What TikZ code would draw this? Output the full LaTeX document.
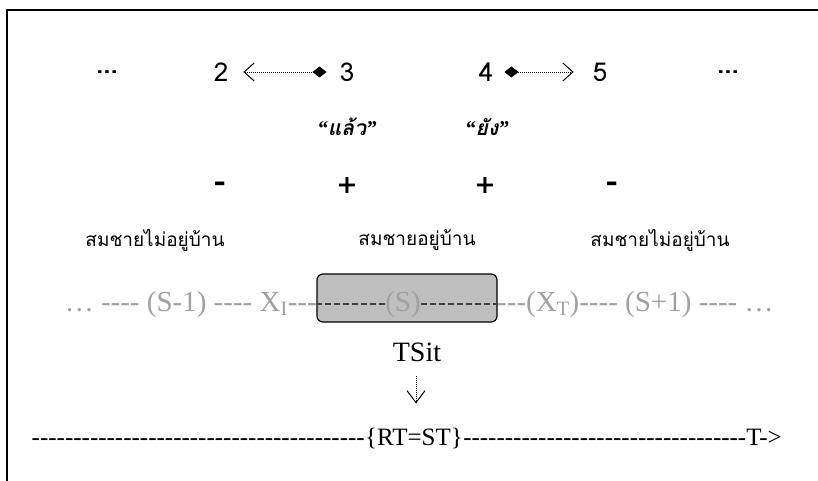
\documentclass[tikz,border=0pt]{standalone}
\usepackage{fontspec}
\setmainfont{Liberation Serif}[Ligatures=TeXOff]
\newfontfamily\thaifont[Script=Thai,BoldItalicFont={Loma Bold Oblique}]{Loma}
\usetikzlibrary{arrows.meta}
\newcommand\qm[1]{{\rmfamily\bfseries\itshape #1}}
\begin{document}
\begin{tikzpicture}
[x=1pt,y=-1pt,
 th/.style={font=\thaifont\fontsize{19}{22}\selectfont,inner sep=1pt},
 dg/.style={font=\thaifont\fontsize{26}{28}\selectfont,inner sep=1pt},
 dgb/.style={font=\thaifont\fontsize{26}{28}\selectfont\bfseries,inner sep=1pt},
 sgn/.style={font=\thaifont\fontsize{34}{36}\selectfont,inner sep=1pt},
 sgb/.style={font=\thaifont\fontsize{34}{36}\selectfont\bfseries,inner sep=1pt},
 qt/.style={font=\thaifont\fontsize{21}{24}\selectfont\bfseries\itshape,inner sep=1pt},
 sg/.style={font=\fontsize{29}{30}\selectfont,text=black!37,inner sep=0pt},
 tm/.style={font=\fontsize{28}{30}\selectfont,inner sep=0pt},
 tb/.style={font=\fontsize{25}{26}\selectfont,inner sep=0pt},
 dl/.style={line width=.8pt,dash pattern=on .8pt off 1.2pt},
 bx/.style={draw,line width=1.2pt,rounded corners=6pt,fill=black!25,minimum width=180pt,minimum height=48pt,inner sep=0pt}]
\useasboundingbox (0,0) rectangle (818,481);
\draw[line width=2pt] (7,481) -- (7,10) -- (818,10);
% time line of situations
\node(dA) at (107,72)[dgb]{...};\node(n2) at (221,72)[dg]{2};\node(n3) at (347,72)[dg]{3};
\node(n4) at (486,72)[dg]{4};\node(n5) at (600,72)[dg]{5};\node(dB) at (728,72)[dgb]{...};
\draw[dl,{Straight Barb[length=10pt,width=18pt,line width=1pt]}-{Diamond[length=14pt,width=11pt]}, shorten <=14pt,shorten >=12pt](n2)--(n3);
\draw[dl,{Diamond[length=14pt,width=11pt]}-{Straight Barb[length=10pt,width=18pt,line width=1pt]}, shorten <=10pt,shorten >=18pt](n4)--(n5);
\node(q1) at (347,127)[qt]{\qm{“}แล้ว\qm{”}};\node(q2) at (487,127)[qt]{\qm{“}ยัง\qm{”}};
\node(m1) at (220,187)[sgb]{-};\node(p1) at (347,187)[sgn]{+};\node(p2) at (485,187)[sgn]{+};\node(m2) at (612,187)[sgb]{-};
\node(t1) at (155,240)[th]{สมชายไม่อยู่บ้าน};\node(t2) at (417,240)[th]{สมชายอยู่บ้าน};\node(t3) at (660,240)[th]{สมชายไม่อยู่บ้าน};
% situation S
\node(sbox) at (407,298)[bx]{};
\node(s) at (403,311)[sg,anchor=base]{(S)};
\node(sl) at (317,311)[sg,anchor=base east]{… ---- (S-1) ---- X\textsubscript{I}---};
\node(sr) at (497,311)[sg,anchor=base west]{---(X\textsubscript{T})---- (S+1) ---- …};
\draw[line width=1.2pt,black!75,dash pattern=on 6pt off 3pt](sbox.west |- s)--(s.west);
\draw[line width=1.2pt,black!75,dash pattern=on 6pt off 3pt](s.east)--(sbox.east |- s);
\node(ts) at (417,352)[tm]{TSit};
\node(rt) at (414,445)[tb,anchor=base]{\{RT=ST\}};
\node(rl) at (rt.base west)[tb,anchor=base east]{----------------------------------------};
\node(rr) at (rt.base east)[tb,anchor=base west]{----------------------------------T->};
\draw[dl,-{Straight Barb[length=12pt,width=18pt,line width=1pt]},shorten <=14pt,shorten >=24pt](ts.south -| 416,0)--(rt.north -| 416,0);
\end{tikzpicture}
\end{document}
